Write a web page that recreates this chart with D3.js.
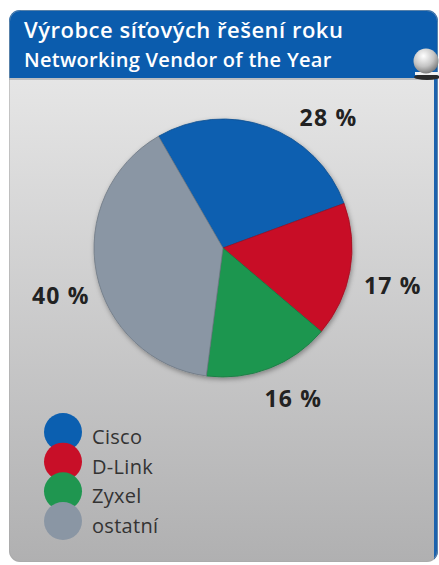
<!DOCTYPE html>
<html>
<head>
<meta charset="utf-8">
<script src="https://cdn.jsdelivr.net/npm/d3@7"></script>
<style>
  html, body { margin: 0; padding: 0; background: #fff; }
  svg { display: block; }
  text { font-family: "Open Sans", "Noto Sans", sans-serif; }
</style>
</head>
<body>
<svg id="chart"></svg>
<script>
// Chart data
const vendors = ['Cisco', 'D-Link', 'Zyxel', 'ostatní'];
const shares = [28, 17, 16, 40];
const sliceColors = ['#0b5fb0', '#c80f28', '#1f9650', '#8a96a4'];
const titleLines = ['Výrobce síťových řešení roku', 'Networking Vendor of the Year'];

const width = 439;
const height = 565;

const svg = d3.select('#chart')
    .attr('width', width)
    .attr('height', height);

const defs = svg.append('defs');

// Panel body gradient (light at top, grey at bottom)
const bodyGrad = defs.append('linearGradient')
    .attr('id', 'bodyGrad')
    .attr('x1', 0).attr('y1', 0).attr('x2', 0).attr('y2', 1);
bodyGrad.append('stop').attr('offset', '0%').attr('stop-color', '#ededed');
bodyGrad.append('stop').attr('offset', '100%').attr('stop-color', '#b0b0b1');

const ballGrad = defs.append('radialGradient')
    .attr('id', 'ballGrad')
    .attr('cx', '40%').attr('cy', '30%').attr('r', '70%');
ballGrad.append('stop').attr('offset', '0%').attr('stop-color', '#ffffff');
ballGrad.append('stop').attr('offset', '60%').attr('stop-color', '#c4c4c4');
ballGrad.append('stop').attr('offset', '100%').attr('stop-color', '#7d7d7d');

const shadow = defs.append('filter')
    .attr('id', 'pieShadow')
    .attr('x', '-20%').attr('y', '-20%').attr('width', '140%').attr('height', '140%');
shadow.append('feDropShadow')
    .attr('dx', 1).attr('dy', 2).attr('stdDeviation', 2.5)
    .attr('flood-color', '#000').attr('flood-opacity', 0.35);

defs.append('clipPath').attr('id', 'panelClip')
    .append('rect')
    .attr('x', 9).attr('y', 10)
    .attr('width', 429).attr('height', 552)
    .attr('rx', 11);

// Panel
const panel = svg.append('g').attr('clip-path', 'url(#panelClip)');

panel.append('rect')
    .attr('x', 9).attr('y', 10)
    .attr('width', 429).attr('height', 552)
    .attr('fill', 'url(#bodyGrad)');

panel.append('rect')
    .attr('x', 9).attr('y', 10)
    .attr('width', 429).attr('height', 68)
    .attr('fill', '#0b5cad');

panel.append('rect')
    .attr('x', 9).attr('y', 78)
    .attr('width', 429).attr('height', 2)
    .attr('fill', '#9fa3a8')
    .attr('opacity', 0.6);

// Blue strip on the right side
panel.append('rect')
    .attr('x', 434).attr('y', 70)
    .attr('width', 5).attr('height', 500)
    .attr('fill', '#1c62ad');

svg.append('rect')
    .attr('x', 9.5).attr('y', 10.5)
    .attr('width', 428).attr('height', 551)
    .attr('rx', 11)
    .attr('fill', 'none')
    .attr('stroke', '#a6a6a6')
    .attr('stroke-opacity', 0.5);

// Ball on the header corner
svg.append('ellipse')
    .attr('cx', 427).attr('cy', 77)
    .attr('rx', 13).attr('ry', 3)
    .attr('fill', '#2b2b2b');
svg.append('rect')
    .attr('x', 415).attr('y', 72)
    .attr('width', 24).attr('height', 3)
    .attr('fill', '#f2f2f2');
svg.append('circle')
    .attr('cx', 426).attr('cy', 61)
    .attr('r', 12.5)
    .attr('fill', 'url(#ballGrad)');

// Title
svg.append('g')
    .selectAll('text')
    .data(titleLines)
    .join('text')
    .attr('x', 24)
    .attr('y', (d, i) => (i === 0 ? 38 : 67))
    .attr('fill', '#fff')
    .attr('font-weight', 600)
    .attr('font-size', (d, i) => (i === 0 ? 22 : 20))
    .attr('letter-spacing', (d, i) => (i === 0 ? 0.5 : 0.3))
    .text(d => d);

// Pie
const cx = 223;
const cy = 248;
const radius = 129;
const startAngle = -30 * Math.PI / 180;

const pie = d3.pie()
    .sort(null)
    .startAngle(startAngle)
    .endAngle(startAngle + 2 * Math.PI)
    .value(d => d);

const arcs = pie(shares);

const arc = d3.arc().innerRadius(0).outerRadius(radius);

const pieGroup = svg.append('g')
    .attr('transform', `translate(${ cx },${ cy })`);

pieGroup.append('g')
    .attr('filter', 'url(#pieShadow)')
    .selectAll('path')
    .data(arcs)
    .join('path')
    .attr('d', arc)
    .attr('fill', (d, i) => sliceColors[i])
    .attr('stroke', (d, i) => d3.color(sliceColors[i]).darker(0.6))
    .attr('stroke-width', 0.8);

// Percentage labels: placed outside the pie, nudged around the rim
const labelNudge = [19, 2.5, -4, -5];
const labelRadius = [168, 174, 166, 169];

function labelPos(d, i)
{
    const a = (d.startAngle + d.endAngle) / 2 + labelNudge[i] * Math.PI / 180;
    return [Math.sin(a) * labelRadius[i], -Math.cos(a) * labelRadius[i]];
}

pieGroup.append('g')
    .selectAll('text')
    .data(arcs)
    .join('text')
    .attr('x', (d, i) => labelPos(d, i)[0])
    .attr('y', (d, i) => labelPos(d, i)[1])
    .attr('dy', '0.36em')
    .attr('text-anchor', 'middle')
    .attr('font-weight', 700)
    .attr('font-size', 23)
    .attr('letter-spacing', 1.2)
    .attr('fill', '#222')
    .text(d => `${ d.data } %`);

// Legend
const legendY = d3.scalePoint()
    .domain(vendors)
    .range([432, 521]);

const legend = svg.append('g');

legend.selectAll('circle')
    .data(vendors)
    .join('circle')
    .attr('cx', 63)
    .attr('cy', d => legendY(d))
    .attr('r', 19)
    .attr('fill', (d, i) => sliceColors[i]);

legend.selectAll('text')
    .data(vendors)
    .join('text')
    .attr('x', 92)
    .attr('y', d => legendY(d) + 12)
    .attr('font-size', 20)
    .attr('letter-spacing', 0.3)
    .attr('fill', '#333')
    .text(d => d);
</script>
</body>
</html>
